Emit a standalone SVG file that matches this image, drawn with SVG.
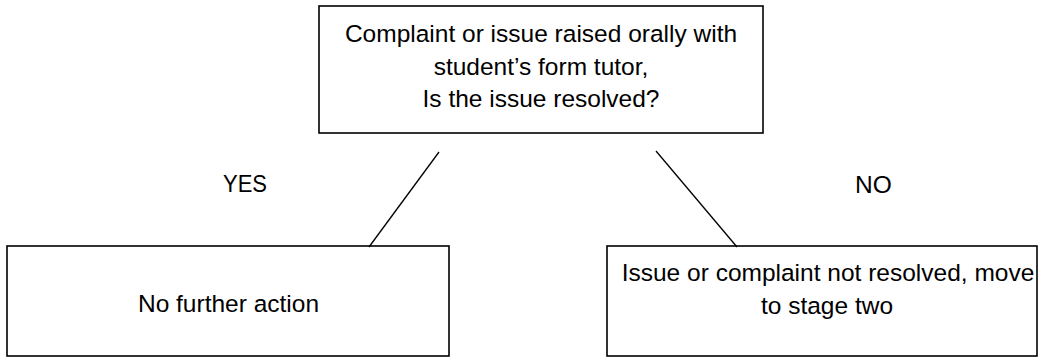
<svg xmlns="http://www.w3.org/2000/svg" width="1039" height="358" viewBox="0 0 1039 358">
<style>
.box{fill:#fff;stroke:#000;stroke-width:1.6}
.t{font-family:"Liberation Sans",Arial,sans-serif;font-size:24.5px;fill:#000}
.m{text-anchor:middle}
.c{stroke:#000;stroke-width:1.3;fill:none}
</style>
<rect width="1039" height="358" fill="#fff"/>
<g id="top">
<rect class="box" x="319" y="6" width="444" height="127"/>
<text class="t m" x="541" y="42">Complaint or issue raised orally with</text>
<text class="t m" x="541" y="74.5">student’s form tutor,</text>
<text class="t m" x="541" y="107">Is the issue resolved?</text>
</g>
<g id="yes-label"><text class="t" x="223" y="192" textLength="44" lengthAdjust="spacingAndGlyphs">YES</text></g>
<g id="no-label"><text class="t" x="855" y="193">NO</text></g>
<g id="left">
<rect class="box" x="7" y="246" width="442" height="110"/>
<text class="t m" x="228.5" y="312">No further action</text>
</g>
<g id="right">
<rect class="box" x="607" y="246" width="430" height="110"/>
<text class="t m" x="828" y="281">Issue or complaint not resolved, move</text>
<text class="t m" x="827" y="313.5">to stage two</text>
</g>
<g id="connectors">
<line class="c" x1="439" y1="152" x2="369" y2="247"/>
<line class="c" x1="656" y1="151" x2="737" y2="247"/>
</g>
</svg>
